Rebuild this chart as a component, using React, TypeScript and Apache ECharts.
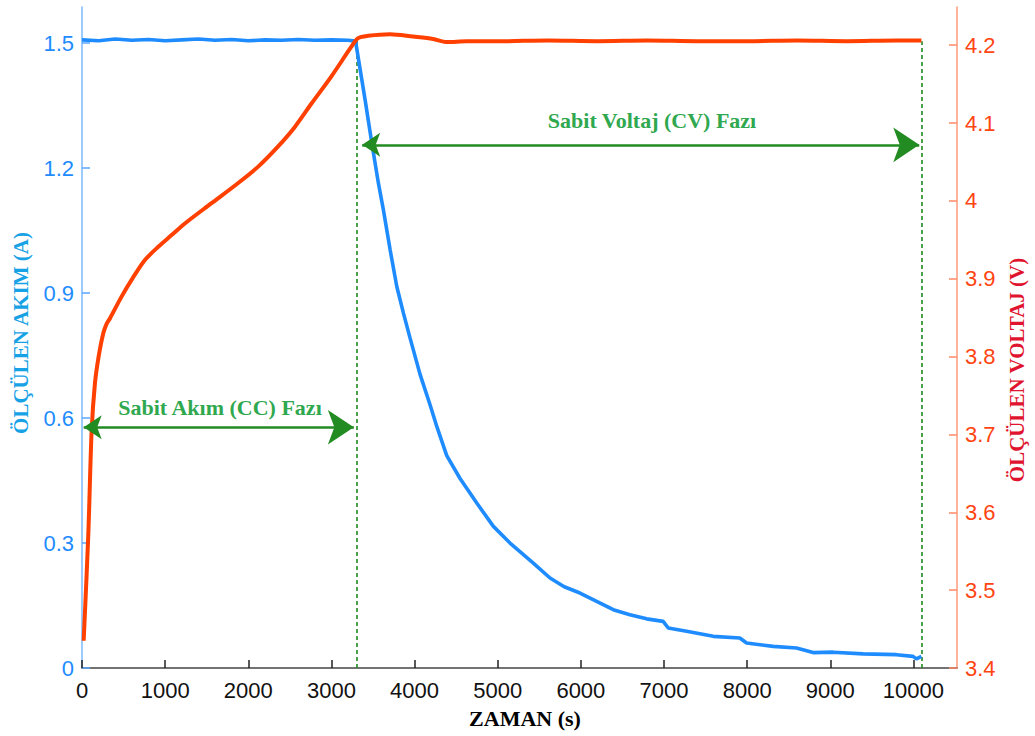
import React, { useEffect, useRef } from "react";
import * as echarts from "echarts";

// ---- Data ----
const currentTime = [0, 200, 400, 600, 800, 1000, 1200, 1400, 1600, 1800, 2000, 2200, 2400, 2600, 2800, 3000, 3200, 3290,
  3405, 3486, 3565, 3625, 3706, 3786, 3866, 3946, 4066, 4186, 4267, 4387, 4547, 4748, 4948, 5148, 5428, 5629, 5800,
  5989, 6190, 6390, 6590, 6791, 6990, 7051, 7272, 7592, 7912, 7993, 8313, 8594, 8793, 9034, 9395, 9796, 9995, 10036, 10096];
const currentValues = [1.508, 1.506, 1.51, 1.507, 1.509, 1.506, 1.508, 1.51, 1.507, 1.509, 1.506, 1.508, 1.507, 1.509, 1.507, 1.508, 1.507, 1.505,
  1.364, 1.26, 1.164, 1.1, 1.004, 0.916, 0.852, 0.792, 0.705, 0.632, 0.58, 0.51, 0.455, 0.396, 0.34, 0.3, 0.252, 0.216, 0.195,
  0.18, 0.16, 0.14, 0.128, 0.118, 0.112, 0.096, 0.088, 0.076, 0.072, 0.06, 0.052, 0.048, 0.037, 0.038, 0.034, 0.032, 0.028, 0.022, 0.028];

const voltageTime = [20, 76, 116, 156, 200, 256, 296, 336, 476, 617, 757, 917, 1078, 1238, 1558, 1879, 2119, 2359, 2560, 2760,
  3000, 3240, 3321, 3441, 3705, 3982, 4222, 4387, 4627, 5028, 5600, 6200, 6800, 7400, 8000, 8600, 9200, 9800, 10096];
const voltageValues = [3.435, 3.572, 3.705, 3.766, 3.8, 3.83, 3.842, 3.849, 3.877, 3.902, 3.924, 3.941, 3.956, 3.971, 3.997, 4.023, 4.044, 4.07, 4.095, 4.125,
  4.16, 4.198, 4.209, 4.212, 4.214, 4.211, 4.208, 4.204, 4.205, 4.205, 4.206, 4.205, 4.206, 4.205, 4.205, 4.206, 4.205, 4.206, 4.206];

const xTicks = [0, 1000, 2000, 3000, 4000, 5000, 6000, 7000, 8000, 9000, 10000];
const currentTicks = [0, 0.3, 0.6, 0.9, 1.2, 1.5];
const voltageTicks = [3.4, 3.5, 3.6, 3.7, 3.8, 3.9, 4.0, 4.1, 4.2];

// phase markers: [time, top current]
const phaseLines = [[3300, 1.507], [10100, 1.505]];
// arrows: [xStart, xEnd, current level]
const ccArrow = [20, 3270, 0.578];
const cvArrow = [3370, 10070, 1.256];

const titleX = "ZAMAN (s)";
const titleLeft = "ÖLÇÜLEN AKIM (A)";
const titleRight = "ÖLÇÜLEN VOLTAJ (V)";
const labelCC = "Sabit Akım (CC) Fazı";
const labelCV = "Sabit Voltaj (CV) Fazı";

export default function App() {
  const ref = useRef<HTMLDivElement>(null);
  useEffect(() => {
    if (!ref.current) return;
    const chart = echarts.init(ref.current, null, { renderer: "svg" });
    const tickFont = { fontFamily: "Liberation Sans, Arial, sans-serif", fontSize: 22 };
    const serif = "Liberation Serif, 'Times New Roman', serif";
    chart.setOption({
      animation: false,
      backgroundColor: "#ffffff",
      grid: { left: 82, right: 78, top: 7, bottom: 68, containLabel: false },
      xAxis: {
        type: "value",
        min: 0,
        max: 10524,
        interval: 1000,
        splitLine: { show: false },
        axisLine: { show: true, lineStyle: { color: "#444444", width: 1.5 } },
        axisTick: { show: true, inside: true, length: 8, customValues: xTicks, lineStyle: { color: "#222222", width: 1.5 } },
        axisLabel: { ...tickFont, color: "#111111", margin: 11, customValues: xTicks, formatter: (v: number) => String(v) },
      },
      yAxis: [
        {
          type: "value",
          position: "left",
          min: 0,
          max: 1.587,
          interval: 0.3,
          splitLine: { show: false },
          axisLine: { show: true, lineStyle: { color: "#7ab8ff", width: 1.5 } },
          axisTick: { show: true, inside: true, length: 8, customValues: currentTicks, lineStyle: { color: "#5aa6ff", width: 1.5 } },
          axisLabel: { ...tickFont, color: "#1e8cff", margin: 8, customValues: currentTicks, formatter: (v: number) => String(Math.round(v * 10) / 10) },
        },
        {
          type: "value",
          position: "right",
          min: 3.4,
          max: 4.249,
          interval: 0.1,
          splitLine: { show: false },
          axisLine: { show: true, lineStyle: { color: "#ff9a7a", width: 1.5 } },
          axisTick: { show: true, inside: true, length: 8, customValues: voltageTicks, lineStyle: { color: "#ff8a66", width: 1.5 } },
          axisLabel: { ...tickFont, color: "#ff4512", margin: 8, customValues: voltageTicks, formatter: (v: number) => String(Math.round(v * 10) / 10) },
        },
      ],
      series: [
        {
          type: "lines",
          coordinateSystem: "cartesian2d",
          xAxisIndex: 0,
          yAxisIndex: 0,
          silent: true,
          z: 1,
          symbol: "none",
          lineStyle: { color: "#1f8a1f", width: 1.6, type: [4, 3], opacity: 1 },
          data: phaseLines.map(([t, top]) => ({ coords: [[t, 0], [t, top]] })),
        },
        {
          type: "line",
          name: "Akım",
          xAxisIndex: 0,
          yAxisIndex: 0,
          showSymbol: false,
          z: 3,
          lineStyle: { color: "#1e8cff", width: 3.6 },
          data: currentTime.map((t, i) => [t, currentValues[i]]),
        },
        {
          type: "line",
          name: "Voltaj",
          xAxisIndex: 0,
          yAxisIndex: 1,
          showSymbol: false,
          smooth: 0.3,
          z: 4,
          lineStyle: { color: "#ff4000", width: 4 },
          data: voltageTime.map((t, i) => [t, voltageValues[i]]),
        },
        {
          type: "lines",
          coordinateSystem: "cartesian2d",
          xAxisIndex: 0,
          yAxisIndex: 0,
          silent: true,
          z: 5,
          symbol: ["arrow", "arrow"],
          symbolSize: [18, 26],
          lineStyle: { color: "#228b22", width: 2.6, opacity: 1 },
          itemStyle: { color: "#228b22" },
          data: [ccArrow, cvArrow].map(([a, b, y]) => ({ coords: [[a, y], [b, y]] })),
        },
      ],
      graphic: [
        {
          type: "text",
          x: 21,
          y: 333,
          rotation: Math.PI / 2,
          style: { text: titleLeft, fill: "#18a2e6", font: `bold 21px ${serif}`, align: "center", verticalAlign: "middle" },
        },
        {
          type: "text",
          x: 1017,
          y: 370,
          rotation: Math.PI / 2,
          style: { text: titleRight, fill: "#e0142e", font: `bold 21px ${serif}`, align: "center", verticalAlign: "middle" },
        },
        {
          type: "text",
          x: 525,
          y: 718,
          style: { text: titleX, fill: "#000000", font: `bold 22px ${serif}`, align: "center", verticalAlign: "middle" },
        },
        {
          type: "text",
          x: 220,
          y: 407,
          style: { text: labelCC, fill: "#2fa84f", font: `bold 22px ${serif}`, align: "center", verticalAlign: "middle" },
        },
        {
          type: "text",
          x: 652,
          y: 120,
          style: { text: labelCV, fill: "#2fa84f", font: `bold 22px ${serif}`, align: "center", verticalAlign: "middle" },
        },
      ],
    });
    return () => chart.dispose();
  }, []);
  return <div ref={ref} style={{ position: "fixed", left: 0, top: 0, width: 1035, height: 736, background: "#fff" }} />;
}
